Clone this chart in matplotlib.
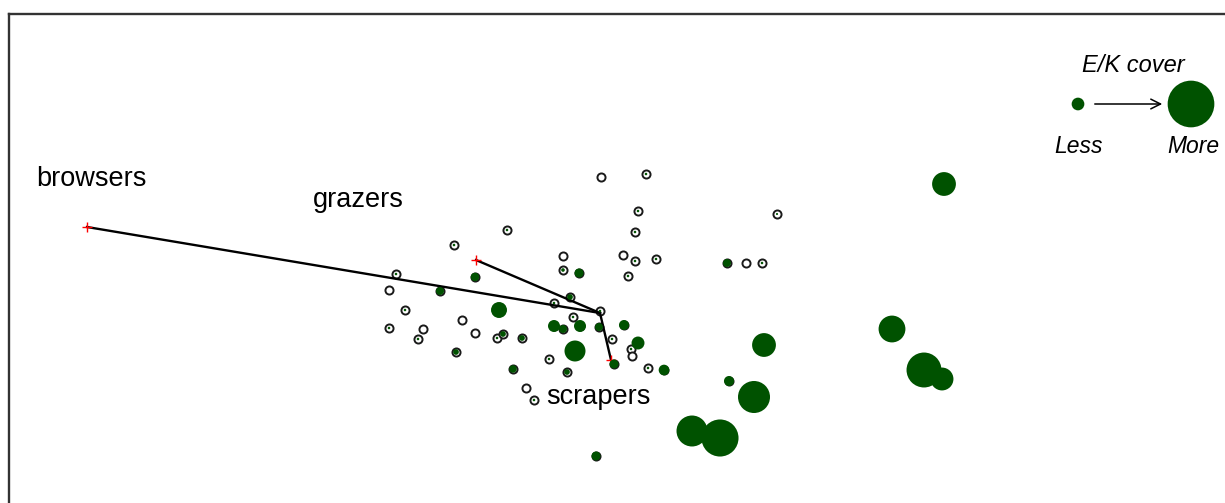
import numpy as np
import matplotlib.pyplot as plt

plt.rcParams["font.family"] = ["Liberation Sans", "DejaVu Sans"]

# site scores (ordination axes) and E/K cover (%)
site_x = [0.01, 0.46, 0.38, 0.35, -0.93, -1.46, -0.37, 0.23, 0.35, 0.56,
          -0.37, -0.21, 0.28, -1.25, -2.04, -2.11, -1.60, -0.30, -0.46, -1.01,
          0.00, -1.95, -0.27, -1.38, -2.11, -1.77, -1.82, -1.25, -1.03, -0.97,
          -0.78, -0.46, -0.37, -0.20, -0.01, 0.24, 0.12, 0.38, 0.31, 0.32,
          -0.25, -0.51, -1.44, -0.87, -0.33, 0.14, 0.48, 0.64, -0.74, -0.66,
          1.77, 1.27, 1.46, 1.62, 3.44, 2.92, 1.64, 3.24, 3.42, 1.54,
          1.29, 0.92, 1.20, -0.04]
site_y = [1.36, 1.39, 1.02, 0.81, 0.83, 0.68, 0.57, 0.58, 0.52, 0.54,
          0.43, 0.40, 0.37, 0.36, 0.39, 0.23, 0.22, 0.16, 0.10, 0.03,
          0.02, 0.03, -0.04, -0.07, -0.15, -0.16, -0.26, -0.20, -0.25, -0.21,
          -0.25, -0.13, -0.16, -0.13, -0.14, -0.12, -0.26, -0.30, -0.36, -0.43,
          -0.38, -0.46, -0.39, -0.56, -0.59, -0.51, -0.55, -0.57, -0.75, -0.87,
          0.99, 0.50, 0.50, 0.50, 1.29, -0.16, -0.32, -0.57, -0.66, -0.84,
          -0.68, -1.18, -1.25, -1.43]
ek_cover = [0, 0.3, 0.3, 0.3, 0.3, 0.3, 0, 0, 0.3, 0.3,
            0.6, 3.7, 0.3, 3.3, 0.3, 0, 2.9, 1.5, 0.3, 11.7,
            0.3, 0.3, 0.3, 0, 0.3, 0, 0.3, 0, 0.3, 1.5,
            1.5, 6.6, 2.9, 6.6, 2.9, 4.6, 0.3, 7.7, 0.3, 0,
            20.2, 0.3, 1.5, 2.6, 1.5, 3.7, 0.3, 5.2, 0, 0.3,
            0.2, 2.9, 0, 0.3, 26, 33, 26, 56, 24, 47,
            4.6, 44, 63, 3.7]

# feeding group vectors
groups = ["browsers", "grazers", "scrapers"]
vec_x = [-5.13, -1.24, 0.11]
vec_y = [0.86, 0.53, -0.47]
label_x = [-5.64, -2.87, -0.54]
label_y = [1.27, 1.06, -0.91]

legend_cover = [7.4, 100]

GREEN = "#005200"
SCALE = 11.3  # marker area (pt^2) per % cover

fig = plt.figure(figsize=(12.25, 5.03), dpi=100)
ax = fig.add_axes([8.7 / 1225, 0, 1 - 8.7 / 1225, (503 - 13.8) / 503])
ax.set_xlim(-5.913, 6.25)
ax.set_ylim(-1.90, 2.992)
ax.set_xticks([])
ax.set_yticks([])
for side in ["right", "bottom"]:
    ax.spines[side].set_visible(False)
for side in ["left", "top"]:
    ax.spines[side].set_linewidth(1.7)
    ax.spines[side].set_color("#333333")

# open site symbols
ax.scatter(site_x, site_y, s=34, facecolor="white", edgecolor="#1a1a1a",
           linewidth=1.4, zorder=2)

# vectors
for gx, gy in zip(vec_x, vec_y):
    ax.plot([0, gx], [0, gy], color="black", lw=1.7, zorder=3)
ax.plot(vec_x, vec_y, "+", color="red", ms=7, mew=1, zorder=4)
for name, lx, ly in zip(groups, label_x, label_y):
    ax.text(lx, ly, name, fontsize=19.5, ha="left", va="baseline")

# E/K cover
cov = np.array(ek_cover)
ax.scatter(site_x, site_y, s=cov * SCALE, color=GREEN, linewidth=0, zorder=5)

# size legend
leg_x = [4.78, 5.91]
leg_y = [2.09, 2.09]
ax.scatter(leg_x, leg_y, s=np.array(legend_cover) * SCALE, color=GREEN,
           linewidth=0, zorder=5)
ax.annotate("", xy=(5.65, 2.09), xytext=(4.92, 2.09),
            arrowprops=dict(arrowstyle="->,head_length=0.7,head_width=0.35",
                            color="black", lw=1.1))
ax.text(5.33, 2.41, "E/K cover", fontsize=17, style="italic", ha="center", va="baseline")
ax.text(4.79, 1.60, "Less", fontsize=16.5, style="italic", ha="center", va="baseline")
ax.text(5.93, 1.60, "More", fontsize=16.5, style="italic", ha="center", va="baseline")

fig.savefig("out.png", dpi=100)
